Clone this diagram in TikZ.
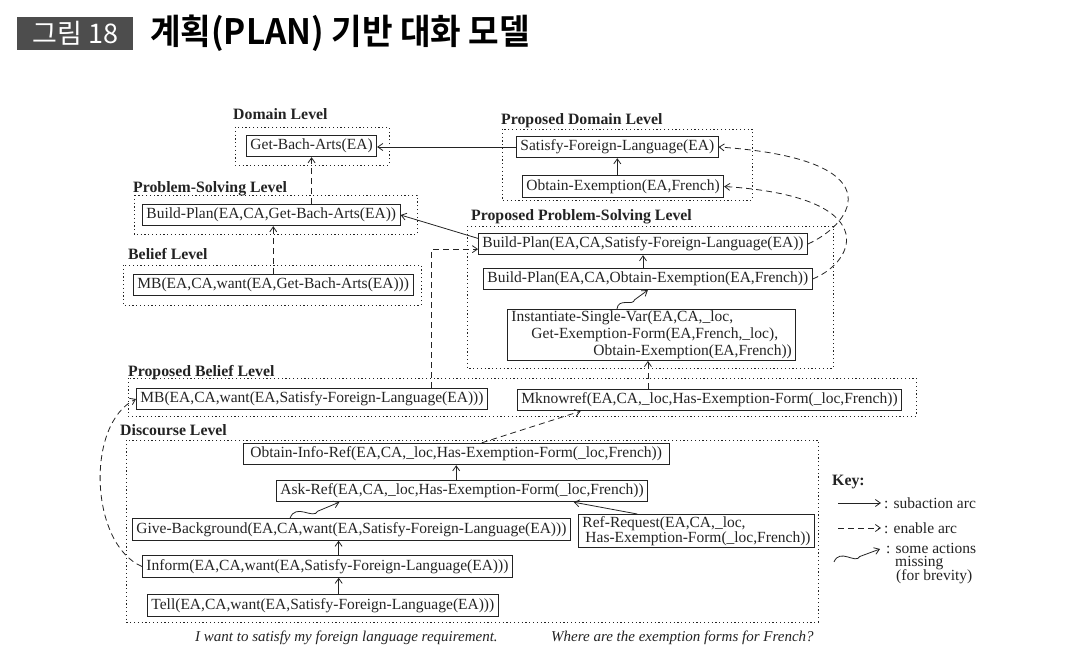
\documentclass[tikz,border=0pt]{standalone}
\usepackage{fontspec}
\setmainfont{Liberation Serif}
\newfontfamily\krfont{Noto Sans CJK KR}
\newfontfamily\krboldfont{Noto Sans CJK KR Bold}[FakeStretch=0.95]
\usetikzlibrary{arrows.meta,calc}
\definecolor{titlebg}{RGB}{77,77,77}
\definecolor{ink}{RGB}{35,35,35}
\begin{document}
\begin{tikzpicture}[x=1pt,y=-1pt,
  every node/.style={font=\fontsize{15.5}{17}\selectfont, text=ink},
  act/.style={draw=ink, line width=0.9pt, anchor=west, inner xsep=4pt, inner ysep=3.5pt, text height=11pt, text depth=3.5pt},
  actm/.style={draw=ink, line width=0.9pt, anchor=north west, inner xsep=4pt, inner ysep=1.5pt, align=left},
  lvl/.style={draw=ink, line width=0.8pt, dash pattern=on 1.2pt off 2.6pt},
  lvllab/.style={anchor=base west, inner sep=0pt, font=\fontsize{15.8}{17}\selectfont\bfseries},
  sub/.style={draw=ink, line width=0.8pt, -{Straight Barb[length=5pt,width=7pt]}},
  enb/.style={sub, dash pattern=on 6pt off 4pt},
  squig/.style={sub, to path={.. controls ($(\tikztostart)!0.2!(\tikztotarget)!0.32!90:(\tikztotarget)$) and ($(\tikztostart)!0.42!(\tikztotarget)!0.3!-90:(\tikztotarget)$) .. ($(\tikztostart)!0.55!(\tikztotarget)!0.08!-90:(\tikztotarget)$) -- (\tikztotarget)}},
  captxt/.style={anchor=base west, inner sep=0pt, font=\fontsize{15}{17}\selectfont\itshape},
  keytxt/.style={anchor=base west, inner sep=0pt}
]
\useasboundingbox (0,0) rectangle (1091,671);

% title
\node[fill=titlebg, minimum width=116pt, minimum height=33pt, anchor=north west, inner sep=0pt, text=white, font=\krfont\fontsize{27}{29}\selectfont] (tbox) at (17,17) {그림 18};
\node[anchor=west, inner sep=0pt, text=black, font=\krboldfont\fontsize{35}{38}\selectfont] (ttl) at (150,33.5) {계획(PLAN) 기반 대화 모델};

% level frames
\draw[lvl] (235,127) rectangle (389,165);
\draw[lvl] (134,195) rectangle (417,234);
\draw[lvl] (123,265) rectangle (421,305);
\draw[lvl] (502,129) rectangle (752,200);
\draw[lvl] (467,226) rectangle (833,368);
\draw[lvl] (128,378) rectangle (916,416);
\draw[lvl] (126,440) rectangle (818,622);

% level labels
\node[lvllab] (lab1) at (233,120) {Domain Level};
\node[lvllab] (lab2) at (133,192) {Problem-Solving Level};
\node[lvllab] (lab3) at (128,259) {Belief Level};
\node[lvllab] (lab4) at (501,125) {Proposed Domain Level};
\node[lvllab] (lab5) at (471,220) {Proposed Problem-Solving Level};
\node[lvllab] (lab6) at (128,376) {Proposed Belief Level};
\node[lvllab] (lab7) at (120,435) {Discourse Level};

% actions
\node[act] (gba) at (246,146) {Get-Bach-Arts(EA)};
\node[act] (bpg) at (142,215) {Build-Plan(EA,CA,Get-Bach-Arts(EA))};
\node[act] (mbg) at (133,285) {MB(EA,CA,want(EA,Get-Bach-Arts(EA)))};
\node[act] (sfl) at (516,147) {Satisfy-Foreign-Language(EA)};
\node[act] (oex) at (522,186.5) {Obtain-Exemption(EA,French)};
\node[act] (bps) at (478,244) {Build-Plan(EA,CA,Satisfy-Foreign-Language(EA))};
\node[act] (bpo) at (483,279) {Build-Plan(EA,CA,Obtain-Exemption(EA,French))};
\node[actm] (isv) at (507,309) {Instantiate-Single-Var(EA,CA,\_loc,\\\hspace*{20pt}Get-Exemption-Form(EA,French,\_loc),\\\hspace*{82pt}Obtain-Exemption(EA,French))};
\node[act] (mbs) at (136,399) {MB(EA,CA,want(EA,Satisfy-Foreign-Language(EA)))};
\node[act] (mkr) at (517,400) {Mknowref(EA,CA,\_loc,Has-Exemption-Form(\_loc,French))};
\node[act, inner xsep=7pt] (oir) at (243,454) {Obtain-Info-Ref(EA,CA,\_loc,Has-Exemption-Form(\_loc,French))};
\node[act] (ask) at (276,491) {Ask-Ref(EA,CA,\_loc,Has-Exemption-Form(\_loc,French))};
\node[act] (gbk) at (132,529.5) {Give-Background(EA,CA,want(EA,Satisfy-Foreign-Language(EA)))};
\node[actm, inner ysep=2pt, font=\fontsize{15.5}{13}\selectfont] (rrq) at (578,514) {Ref-Request(EA,CA,\_loc,\\\hspace*{3pt}Has-Exemption-Form(\_loc,French))};
\node[act] (inf) at (142,566.5) {Inform(EA,CA,want(EA,Satisfy-Foreign-Language(EA)))};
\node[act] (tel) at (147,605.5) {Tell(EA,CA,want(EA,Satisfy-Foreign-Language(EA)))};

% connectors
\draw[sub] (sfl.west) -- (sfl.west -| gba.east);
\draw[enb] (gba.south |- bpg.north) -- (gba.south);
\draw[enb] (mbg.north) -- (mbg.north |- bpg.south);
\draw[sub] ($(bps.north west)!0.25!(bps.south west)$) -- (bpg.east);
\draw[sub] (sfl.south |- oex.north) -- (sfl.south);
\draw[sub] (bps.south |- bpo.north) -- (bps.south);
\draw[squig] ($(isv.north west)!0.38!(isv.north east)$) to (bpo.south);
\draw[enb] (bps.east) .. controls +(48,-22) and +(175,12) .. (sfl.east);
\draw[enb] (bpo.east) .. controls +(45,-18) and +(158,10) .. (oex.east);
\draw[enb] ($(mbs.north west)!0.84!(mbs.north east)$) |- ($(bps.south west)!0.27!(bps.north west)$);
\coordinate (mkrtop) at ($(mkr.north west)!0.34!(mkr.north east)$);
\draw[enb] (mkrtop) -- (mkrtop |- isv.south);
\draw[enb] ($(oir.north west)!0.56!(oir.north east)$) -- ($(mkr.south west)!0.165!(mkr.south east)$);
\draw[sub] (oir.south |- ask.north) -- (oir.south);
\draw[sub] ($(rrq.north west)!0.25!(rrq.north east)$) -- ($(ask.south west)!0.8!(ask.south east)$);
\draw[squig] ($(gbk.north west)!0.36!(gbk.north east)$) to ($(ask.south west)!0.17!(ask.south east)$);
\coordinate (inftop) at ($(inf.north west)!0.53!(inf.north east)$);
\draw[sub] (inftop) -- (inftop |- gbk.south);
\coordinate (teltop) at ($(tel.north west)!0.545!(tel.north east)$);
\draw[sub] (teltop) -- (teltop |- inf.south);
\draw[enb] (inf.west) .. controls +(-52,-22) and +(-51,25) .. (mbs.west);

% captions
\node[captxt] (cap1) at (195,641) {I want to satisfy my foreign language requirement.};
\node[captxt] (cap2) at (551,641) {Where are the exemption forms for French?};

% key
\node[lvllab] (keyl) at (832,485) {Key:};
\coordinate (k1a) at (838,503); \coordinate (k1b) at (881,503);
\draw[sub] (k1a) -- (k1b);
\node[anchor=west, inner sep=0pt] (k1t) at (884,503) {: subaction arc};
\coordinate (k2a) at (838,528); \coordinate (k2b) at (881,528);
\draw[enb] (k2a) -- (k2b);
\node[anchor=west, inner sep=0pt] (k2t) at (884,528) {: enable arc};
\coordinate (k3a) at (834,562); \coordinate (k3b) at (880,549);
\draw[squig] (k3a) to (k3b);
\node[keytxt] (k3t) at (886,553) {: some actions};
\node[keytxt] (k3u) at (895,566.5) {missing};
\node[keytxt] (k3v) at (896,580) {(for brevity)};
\end{tikzpicture}
\end{document}
